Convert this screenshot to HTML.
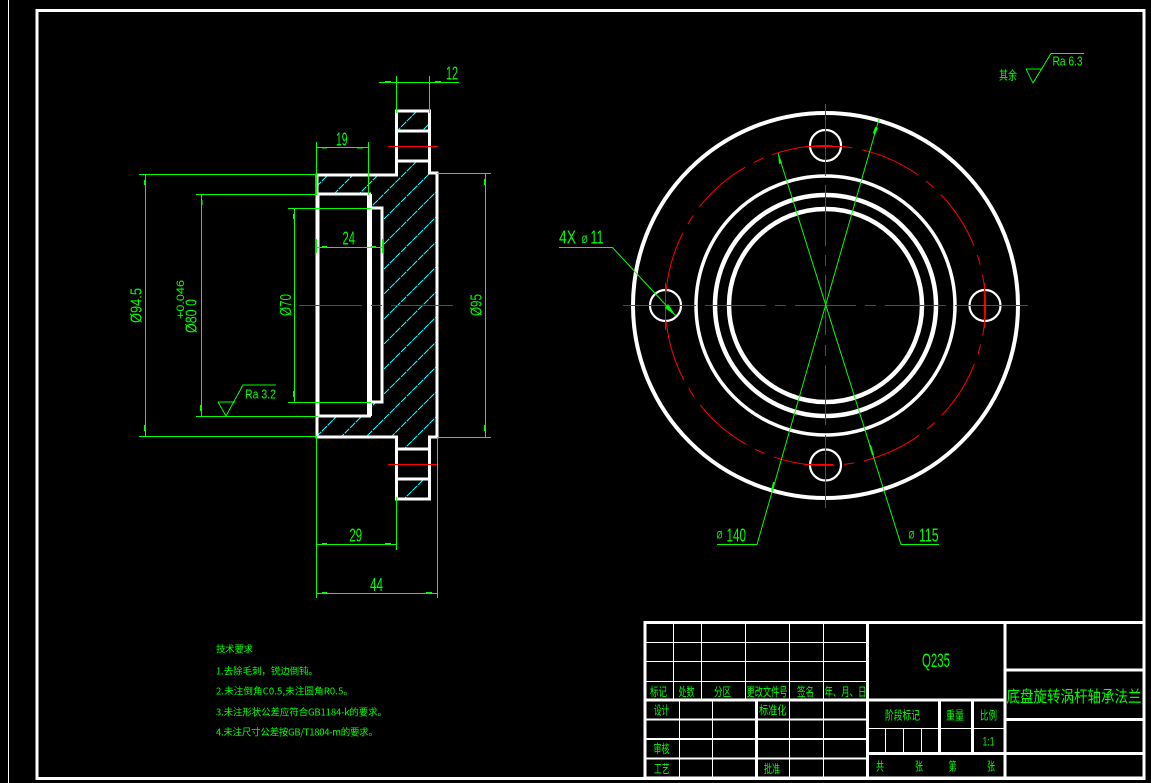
<!DOCTYPE html>
<html>
<head>
<meta charset="utf-8">
<style>
html,body{margin:0;padding:0;background:#000;width:1151px;height:783px;overflow:hidden}
svg{display:block}
.g{stroke:#00ff00;fill:none;stroke-width:1}
.w{stroke:#fff;fill:none;stroke-width:3}
.w2{stroke:#fff;fill:none;stroke-width:2}
.w1{stroke:#fff;fill:none;stroke-width:1}
.r{stroke:#ff0000;fill:none;stroke-width:1}
.c{stroke:#00ffff;fill:none;stroke-width:1;stroke-dasharray:7 1}
text{fill:#00ff00;font-family:"Liberation Sans","WenQuanYi Zen Hei","Noto Sans CJK SC",sans-serif}
.n{font-size:18px}
.v{font-size:16px}
.o{font-size:11px}
.s{font-size:13px}
.t{font-size:9.5px;font-family:"WenQuanYi Zen Hei","Noto Sans CJK SC","Liberation Sans",sans-serif}
.k{font-size:12px;font-family:"WenQuanYi Zen Hei","Noto Sans CJK SC","Liberation Sans",sans-serif}
</style>
</head>
<body>
<svg width="1151" height="783" viewBox="0 0 1151 783" xmlns="http://www.w3.org/2000/svg" shape-rendering="crispEdges">
<rect width="1151" height="783" fill="#000"/>
<!-- sheet -->
<line x1="8.5" y1="0" x2="8.5" y2="783" class="w1"/>
<rect x="37" y="10.5" width="1107" height="768" class="w"/>

<!-- hatch -->
<defs>
<clipPath id="hc">
<polygon points="317,175 396.5,175 396.5,161 429.5,161 429.5,173 437,173 437,437 429.5,437 429.5,449 396.5,449 396.5,437 317,437 317,416 369,416 369,402 382,402 382,208 369,208 369,194 317,194"/>
<rect x="396.5" y="111" width="33" height="20"/>
<rect x="396.5" y="479" width="33" height="20"/>
</clipPath>
</defs>
<g clip-path="url(#hc)" class="c">
<line x1="440" y1="63" x2="310" y2="193"/>
<line x1="440" y1="88" x2="310" y2="218"/>
<line x1="440" y1="113" x2="310" y2="243"/>
<line x1="440" y1="138" x2="310" y2="268"/>
<line x1="440" y1="163" x2="310" y2="293"/>
<line x1="440" y1="188" x2="310" y2="318"/>
<line x1="440" y1="213" x2="310" y2="343"/>
<line x1="440" y1="238" x2="310" y2="368"/>
<line x1="440" y1="263" x2="310" y2="393"/>
<line x1="440" y1="288" x2="310" y2="418"/>
<line x1="440" y1="313" x2="310" y2="443"/>
<line x1="440" y1="338" x2="310" y2="468"/>
<line x1="440" y1="363" x2="310" y2="493"/>
<line x1="440" y1="388" x2="310" y2="518"/>
<line x1="440" y1="413" x2="310" y2="543"/>
<line x1="440" y1="438" x2="310" y2="568"/>
<line x1="440" y1="463" x2="310" y2="593"/>
<line x1="440" y1="488" x2="310" y2="618"/>
</g>

<!-- section profile -->
<g class="w">
<path d="M317 175H396.5V111H429.5V173H437V437H429.5V499H396.5V437H317Z"/>
<line x1="396.5" y1="131" x2="429.5" y2="131"/>
<line x1="396.5" y1="161" x2="429.5" y2="161"/>
<line x1="396.5" y1="449" x2="429.5" y2="449"/>
<line x1="396.5" y1="479" x2="429.5" y2="479"/>
<path d="M371 208H382V402H371"/>
<line x1="317" y1="194" x2="371" y2="194"/>
<line x1="317" y1="416" x2="371" y2="416"/>
</g>
<rect x="315.5" y="194" width="4" height="222" fill="#fff"/>
<rect x="367" y="194" width="5" height="222" fill="#fff"/>

<!-- section red -->
<g class="r">
<line x1="388" y1="146.5" x2="438" y2="146.5"/>
<line x1="388" y1="464.5" x2="437" y2="464.5"/>
<line x1="299" y1="305.5" x2="362" y2="305.5"/>
<line x1="371" y1="305.5" x2="382" y2="305.5"/>
<line x1="391" y1="305.5" x2="453" y2="305.5"/>
</g>

<!-- section dims -->
<g class="g">
<line x1="379" y1="82.5" x2="459" y2="82.5"/>
<line x1="396.5" y1="76" x2="396.5" y2="113"/>
<line x1="429.5" y1="76" x2="429.5" y2="113"/>
<line x1="316.5" y1="147.5" x2="368.5" y2="147.5"/>
<line x1="316.5" y1="142" x2="316.5" y2="195"/>
<line x1="368.5" y1="142" x2="368.5" y2="195"/>
<line x1="139" y1="174.5" x2="317" y2="174.5"/>
<line x1="145.5" y1="174" x2="145.5" y2="437"/>
<line x1="139" y1="436.5" x2="317" y2="436.5"/>
<line x1="196" y1="194.5" x2="317" y2="194.5"/>
<line x1="201.5" y1="194" x2="201.5" y2="417"/>
<line x1="196" y1="416.5" x2="318" y2="416.5"/>
<line x1="288" y1="208.5" x2="371" y2="208.5"/>
<line x1="294.5" y1="208" x2="294.5" y2="402"/>
<line x1="288" y1="402.5" x2="371" y2="402.5"/>
<line x1="437" y1="173.5" x2="491" y2="173.5"/>
<line x1="485.5" y1="173" x2="485.5" y2="438"/>
<line x1="437" y1="437.5" x2="491" y2="437.5"/>
<line x1="316.5" y1="247.5" x2="382.5" y2="247.5"/>
<line x1="316.5" y1="239" x2="316.5" y2="253"/>
<line x1="382.5" y1="239" x2="382.5" y2="253"/>
<line x1="316.5" y1="436" x2="316.5" y2="598"/>
<line x1="437.5" y1="437" x2="437.5" y2="598"/>
<line x1="396.5" y1="497" x2="396.5" y2="550"/>
<line x1="316.5" y1="544.5" x2="396.5" y2="544.5"/>
<line x1="316.5" y1="593.5" x2="437.5" y2="593.5"/>
<path d="M218 402H235M218 402L226 416L243 385H276"/>
<path d="M1026 69H1042M1026 69L1033 83L1051 53.5H1084"/>
</g>
<!-- arrow ticks -->
<g fill="#00ff00" stroke="none">
<rect x="385" y="81" width="6" height="1.5"/><rect x="435" y="81" width="6" height="1.5"/>
<rect x="322" y="147" width="5" height="1.5"/><rect x="357" y="147" width="6" height="1.5"/>
<rect x="144" y="180" width="1.5" height="5"/><rect x="144" y="425" width="1.5" height="6"/>
<rect x="201" y="200" width="1.5" height="5"/><rect x="200" y="405" width="1.5" height="6"/>
<rect x="293" y="214" width="1.5" height="5"/><rect x="293" y="391" width="1.5" height="6"/>
<rect x="484" y="179" width="1.5" height="6"/><rect x="484" y="425" width="1.5" height="6"/>
<rect x="322" y="246" width="5" height="1.5"/><rect x="371" y="246" width="5" height="1.5"/>
<rect x="322" y="543" width="5" height="1.5"/><rect x="385" y="543" width="6" height="1.5"/>
<rect x="322" y="592" width="5" height="1.5"/><rect x="426" y="592" width="6" height="1.5"/>
</g>

<!-- section text -->
<text class="n" x="446" y="79.5" textLength="12" lengthAdjust="spacingAndGlyphs">12</text>
<text class="n" x="336" y="145.5" textLength="11.5" lengthAdjust="spacingAndGlyphs">19</text>
<text class="n" x="342.5" y="244.5" textLength="12.5" lengthAdjust="spacingAndGlyphs">24</text>
<text class="n" x="349.5" y="541.5" textLength="12.5" lengthAdjust="spacingAndGlyphs">29</text>
<text class="n" x="370" y="591" textLength="13" lengthAdjust="spacingAndGlyphs">44</text>
<text class="s" x="245" y="398.5" textLength="31" lengthAdjust="spacingAndGlyphs">Ra 3.2</text>
<text class="s" x="1052.5" y="65.5" textLength="30" lengthAdjust="spacingAndGlyphs">Ra 6.3</text>
<text class="k" x="999" y="79.5" font-size="12" textLength="18" lengthAdjust="spacingAndGlyphs">其余</text>
<text class="v" transform="translate(141.7 323) rotate(-90)" textLength="35" lengthAdjust="spacingAndGlyphs">Ø94.5</text>
<text class="v" transform="translate(196.7 333) rotate(-90)" textLength="34" lengthAdjust="spacingAndGlyphs">Ø80 0</text>
<text font-size="11" transform="translate(184 319) rotate(-90)" textLength="39" lengthAdjust="spacingAndGlyphs">+0.046</text>
<text class="v" transform="translate(291 316) rotate(-90)" textLength="22" lengthAdjust="spacingAndGlyphs">Ø70</text>
<text class="v" transform="translate(481.7 316) rotate(-90)" textLength="22" lengthAdjust="spacingAndGlyphs">Ø95</text>

<!-- front view -->
<g class="w" shape-rendering="auto">
<circle cx="825.5" cy="305.5" r="192.5" stroke-width="4"/>
<circle cx="825.5" cy="305.5" r="129.5" stroke-width="3.5"/>
<circle cx="825.5" cy="305.5" r="110.5" stroke-width="4.5"/>
<circle cx="825.5" cy="305.5" r="96.5" stroke-width="4.5"/>
<circle cx="825.5" cy="145.5" r="15.5" stroke-width="2.2"/>
<circle cx="665.5" cy="305.5" r="15.5" stroke-width="2.2"/>
<circle cx="985" cy="305.5" r="15.5" stroke-width="2.2"/>
<circle cx="825.5" cy="465" r="15.5" stroke-width="2.2"/>
</g>
<circle cx="825.5" cy="305.5" r="160" class="r" stroke-dasharray="61.4 10 10 10" stroke-dashoffset="-59.7" shape-rendering="auto"/>
<g class="r">
<path d="M623 305.5H696M705 305.5H766M775 305.5H786M795 305.5H856M865 305.5H876M885 305.5H946M955 305.5H1028"/>
<path d="M825.5 104V176M825.5 185V246M825.5 255V266M825.5 275V335M825.5 345V356M825.5 365V425M825.5 435V508"/>
<path d="M808 146.5H842M804 464.5H833"/>
<path d="M665.5 283V330M984.5 283V328"/>
</g>
<g class="g" shape-rendering="auto">
<path d="M717 544.5H757L879 119"/>
<path d="M939 544.5H901L778 153"/>
<path d="M559 247.5H612.5L676 316"/>
</g>
<g fill="#00ff00" stroke="none" shape-rendering="auto">
<polygon points="875,127 878,128 875,135 873,133"/>
<polygon points="773,482 775,482 773,491 771,491"/>
<polygon points="778,153 782,163 779,164"/>
<polygon points="676,316 665,308 668,304"/>
<polygon points="869,445 871,445 874,455 872,455"/>
</g>
<text class="n" x="559" y="243.5" textLength="17" lengthAdjust="spacingAndGlyphs">4X</text>
<text class="o" x="581.5" y="243" textLength="6" lengthAdjust="spacingAndGlyphs">Ø</text>
<text class="n" x="590.5" y="243.5" textLength="13" lengthAdjust="spacingAndGlyphs">11</text>
<text class="o" x="716.5" y="538.5" textLength="6" lengthAdjust="spacingAndGlyphs">Ø</text>
<text class="n" x="726.5" y="541.5" textLength="19.5" lengthAdjust="spacingAndGlyphs">140</text>
<text class="o" x="908.5" y="538.5" textLength="6" lengthAdjust="spacingAndGlyphs">Ø</text>
<text class="n" x="919" y="541.5" textLength="19.5" lengthAdjust="spacingAndGlyphs">115</text>

<!-- tech notes -->
<text class="t" x="216" y="652.5" textLength="37">技术要求</text>
<text class="t" x="216" y="674.5" textLength="102">1.去除毛刺，锐边倒钝。</text>
<text class="t" x="216" y="694.5" textLength="137">2.未注倒角C0.5,未注圆角R0.5。</text>
<text class="t" x="216" y="715.5" textLength="171">3.未注形状公差应符合GB1184-k的要求。</text>
<text class="t" x="216" y="735.5" textLength="162">4.未注尺寸公差按GB/T1804-m的要求。</text>

<!-- title block -->
<g class="w">
<rect x="645" y="622.5" width="499" height="155.5"/>
<line x1="867.5" y1="622" x2="867.5" y2="778"/>
<line x1="1005" y1="622" x2="1005" y2="778"/>
<line x1="645" y1="700" x2="1005" y2="700"/>
<line x1="1005" y1="670" x2="1144" y2="670"/>
<line x1="1005" y1="719.5" x2="1144" y2="719.5"/>
<line x1="867" y1="753.5" x2="1144" y2="753.5"/>
<line x1="756.5" y1="700" x2="756.5" y2="778"/>
<line x1="939.5" y1="700" x2="939.5" y2="753"/>
<line x1="972.5" y1="700" x2="972.5" y2="753"/>
</g>
<g class="w2">
<line x1="645" y1="719.5" x2="867" y2="719.5"/>
<line x1="645" y1="739" x2="867" y2="739"/>
<line x1="645" y1="758.5" x2="867" y2="758.5"/>
</g>
<g class="w1">
<line x1="645" y1="642.5" x2="867" y2="642.5"/>
<line x1="645" y1="661.5" x2="867" y2="661.5"/>
<line x1="645" y1="681.5" x2="867" y2="681.5"/>
<line x1="673.5" y1="622" x2="673.5" y2="700"/>
<line x1="701.5" y1="622" x2="701.5" y2="700"/>
<line x1="745.5" y1="622" x2="745.5" y2="700"/>
<line x1="789.5" y1="622" x2="789.5" y2="778"/>
<line x1="823.5" y1="622" x2="823.5" y2="778"/>
<line x1="679.5" y1="700" x2="679.5" y2="778"/>
<line x1="712.5" y1="700" x2="712.5" y2="778"/>
<line x1="867" y1="728.5" x2="1005" y2="728.5"/>
<line x1="885.5" y1="728" x2="885.5" y2="753"/>
<line x1="903.5" y1="728" x2="903.5" y2="753"/>
<line x1="921.5" y1="728" x2="921.5" y2="753"/>
</g>

<text x="922" y="667" font-size="19" textLength="28" lengthAdjust="spacingAndGlyphs">Q235</text>
<text x="1006.5" y="702" font-size="16" textLength="135" lengthAdjust="spacingAndGlyphs" style="font-family:'WenQuanYi Zen Hei','Noto Sans CJK SC',sans-serif">底盘旋转涡杆轴承法兰</text>
<text class="k" x="650" y="696" textLength="17" lengthAdjust="spacingAndGlyphs">标记</text>
<text class="k" x="678.5" y="696" textLength="16" lengthAdjust="spacingAndGlyphs">处数</text>
<text class="k" x="714" y="696" textLength="17" lengthAdjust="spacingAndGlyphs">分区</text>
<text class="k" x="746.5" y="696" textLength="41" lengthAdjust="spacingAndGlyphs">更改文件号</text>
<text class="k" x="797" y="696" textLength="17" lengthAdjust="spacingAndGlyphs">签名</text>
<text class="k" x="824.5" y="696" textLength="42" lengthAdjust="spacingAndGlyphs">年、月、日</text>
<text class="k" x="654" y="714.5" textLength="15" lengthAdjust="spacingAndGlyphs">设计</text>
<text class="k" x="759" y="714.5" textLength="27.5" lengthAdjust="spacingAndGlyphs">标准化</text>
<text class="k" x="653.5" y="753" textLength="16" lengthAdjust="spacingAndGlyphs">审核</text>
<text class="k" x="654" y="773" textLength="15.5" lengthAdjust="spacingAndGlyphs">工艺</text>
<text class="k" x="764" y="773" textLength="16" lengthAdjust="spacingAndGlyphs">批准</text>
<text class="k" x="885" y="719.5" textLength="35" lengthAdjust="spacingAndGlyphs">阶段标记</text>
<text class="k" x="946" y="719.5" textLength="18" lengthAdjust="spacingAndGlyphs">重量</text>
<text class="k" x="980" y="719.5" textLength="17" lengthAdjust="spacingAndGlyphs">比例</text>
<text x="982.5" y="745.5" font-size="12" textLength="12" lengthAdjust="spacingAndGlyphs">1:1</text>
<text class="k" x="876" y="770.5" textLength="8" lengthAdjust="spacingAndGlyphs">共</text>
<text class="k" x="915" y="770.5" textLength="8" lengthAdjust="spacingAndGlyphs">张</text>
<text class="k" x="948.5" y="770.5" textLength="8" lengthAdjust="spacingAndGlyphs">第</text>
<text class="k" x="987" y="770.5" textLength="8" lengthAdjust="spacingAndGlyphs">张</text>
</svg>
</body>
</html>
